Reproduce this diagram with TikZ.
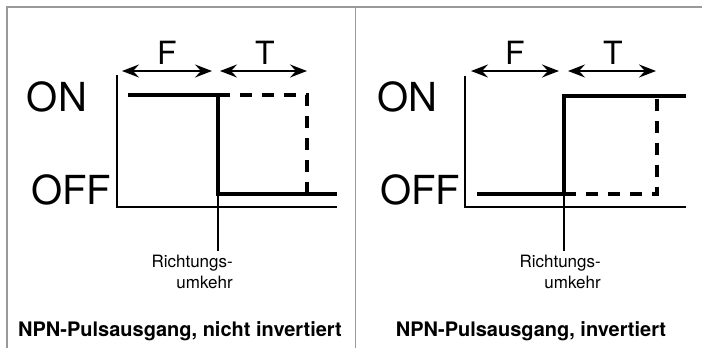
\documentclass[tikz,border=0pt]{standalone}
\usepackage{fontspec}
\setmainfont{TeX Gyre Heros}
\usetikzlibrary{arrows.meta}
\begin{document}
\begin{tikzpicture}[x=1pt,y=-1pt,
  frame/.style={draw=black!40,line width=1.8pt},
  axis/.style={line width=2.5pt,line cap=butt},
  sig/.style={line width=3.4pt},
  sigdash/.style={line width=3.4pt,dash pattern=on 12pt off 10pt},
  dim/.style={line width=2pt,{Stealth[length=17pt,width=13pt,inset=6pt]}-{Stealth[length=17pt,width=13pt,inset=6pt]}},
  big/.style={font=\fontsize{40}{42}\selectfont,inner sep=0pt},
  lett/.style={font=\fontsize{32}{34}\selectfont,inner sep=0pt},
  small/.style={font=\fontsize{17}{21}\selectfont,inner sep=0pt,align=right,anchor=north east},
  title/.style={font=\fontsize{20}{22}\selectfont\bfseries,inner sep=0pt}]
\useasboundingbox (0,0) rectangle (702,348);
% frame
\draw[frame] (7,348) -- (7,7) -- (702,7);
\draw[frame,line width=1.5pt] (355.5,7) -- (355.5,348);

% ---------- left panel ----------
\coordinate (la1) at (117,75);
\coordinate (la0) at (117,207);
\coordinate (la2) at (337,207);
\draw[axis] (la1) -- (la0) -- (la2);
\coordinate (lon0) at (128,95);
\coordinate (lsw) at (218,95);
\coordinate (lsw2) at (218,194);
\coordinate (loff1) at (337,194);
\coordinate (lr) at (218,251);
\draw[sig] (lon0) -- (lsw) -- (lsw2) -- (loff1);
\draw[axis] (lsw2) -- (lr);
\coordinate (ld1) at (307,95);
\coordinate (ld2) at (307,194);
\draw[sigdash] (lsw) -- (ld1) -- (ld2);
\coordinate (lf0) at (122,71);
\coordinate (lf1) at (212,71);
\coordinate (lt0) at (220,71);
\coordinate (lt1) at (307,71);
\draw[dim] (lf0) -- (lf1);
\draw[dim] (lt0) -- (lt1);
\node[lett] (lF) at (167,53) {F};
\node[lett] (lT) at (265,53) {T};
\node[big] (lON) at (57,97) {ON};
\node[big] (lOFF) at (71,190) {OFF};
\node[small] (lR) at (233,255) {Richtungs-\\umkehr};
\node[title] (lTitle) at (180,331) {NPN-Pulsausgang, nicht invertiert};

% ---------- right panel ----------
\coordinate (ra1) at (465,76);
\coordinate (ra0) at (465,207);
\coordinate (ra2) at (686,207);
\draw[axis] (ra1) -- (ra0) -- (ra2);
\coordinate (roff0) at (477,194);
\coordinate (rsw) at (564,194);
\coordinate (rsw2) at (564,96);
\coordinate (ron1) at (686,96);
\coordinate (rr) at (564,251);
\draw[sig] (roff0) -- (rsw) -- (rsw2) -- (ron1);
\draw[axis] (rsw) -- (rr);
\coordinate (rd1) at (657,194);
\coordinate (rd2) at (657,96);
\draw[sigdash] (rsw) -- (rd1) -- (rd2);
\coordinate (rf0) at (471,71);
\coordinate (rf1) at (559,71);
\coordinate (rt0) at (568,71);
\coordinate (rt1) at (656,71);
\draw[dim] (rf0) -- (rf1);
\draw[dim] (rt0) -- (rt1);
\node[lett] (rF) at (515,53) {F};
\node[lett] (rT) at (613,53) {T};
\node[big] (rON) at (407,97) {ON};
\node[big] (rOFF) at (420,190) {OFF};
\node[small] (rR) at (601,255) {Richtungs-\\umkehr};
\node[title] (rTitle) at (531,331) {NPN-Pulsausgang, invertiert};
\end{tikzpicture}
\end{document}
